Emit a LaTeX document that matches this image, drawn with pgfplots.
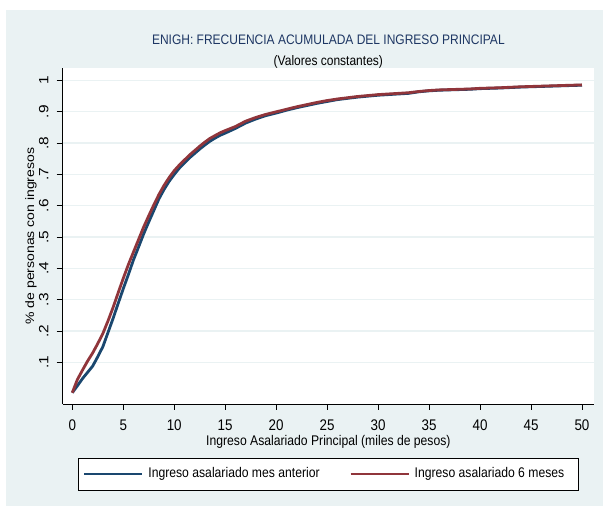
\documentclass[border=0pt]{standalone}
\usepackage{fontspec}
\setmainfont[FakeStretch=0.87]{Liberation Sans}
\newfontfamily\rotfont[FakeStretch=1.149]{Liberation Sans}
\usepackage{pgfplots}
\pgfplotsset{compat=1.18}
\definecolor{bgc}{RGB}{234,242,243}
\definecolor{snavy}{RGB}{26,71,111}
\definecolor{smaroon}{RGB}{144,53,59}
\definecolor{ttl}{RGB}{30,55,100}

\pgfplotstableread{
x y
0 0.003
0.5 0.025
1 0.048
1.5 0.068
2 0.088
2.5 0.118
3 0.150
3.5 0.195
4 0.240
4.5 0.288
5 0.335
5.5 0.380
6 0.427
6.5 0.468
7 0.510
7.5 0.548
8 0.585
8.5 0.622
9 0.652
9.5 0.678
10 0.700
10.5 0.720
11 0.737
11.5 0.753
12 0.767
12.5 0.781
13 0.794
13.5 0.806
14 0.816
14.5 0.825
15 0.832
16 0.847
17 0.864
18 0.877
19 0.888
20 0.896
21 0.905
22 0.913
23 0.920
24 0.927
25 0.933
26 0.939
27 0.943
28 0.947
29 0.950
30 0.953
31 0.955
32 0.957
33 0.959
34 0.964
35 0.967
36 0.969
37 0.970
38 0.971
39 0.972
40 0.974
42 0.976
44 0.979
46 0.981
48 0.983
50 0.985
}\mesant

\pgfplotstableread{
x y
0 0.003
0.5 0.045
1 0.075
1.5 0.104
2 0.130
2.5 0.160
3 0.192
3.5 0.232
4 0.275
4.5 0.322
5 0.368
5.5 0.412
6 0.452
6.5 0.492
7 0.532
7.5 0.568
8 0.603
8.5 0.636
9 0.665
9.5 0.690
10 0.712
10.5 0.730
11 0.746
11.5 0.762
12 0.776
12.5 0.790
13 0.803
13.5 0.815
14 0.824
14.5 0.833
15 0.840
16 0.853
17 0.870
18 0.882
19 0.892
20 0.900
21 0.908
22 0.916
23 0.923
24 0.930
25 0.936
26 0.941
27 0.945
28 0.949
29 0.952
30 0.955
31 0.957
32 0.959
33 0.961
34 0.965
35 0.968
36 0.970
37 0.971
38 0.972
39 0.973
40 0.975
42 0.977
44 0.980
46 0.982
48 0.984
50 0.986
}\seismeses

\begin{document}
\begin{tikzpicture}[x=1pt,y=1pt]
\fill[white] (0,0) rectangle (603,506);
\fill[bgc] (6,0) rectangle (603,496);
\begin{axis}[
  at={(62.7pt,102pt)}, anchor=south west,
  scale only axis, width=531.3pt, height=335.7pt,
  xmin=-0.94, xmax=51.18, ymin=-0.033, ymax=1.039,
  axis background/.style={fill=white},
  axis lines=left,
  axis line style={-, black, line width=0.8pt},
  tick align=outside,
  major tick length=6pt,
  tick style={black, line width=0.8pt},
  xtick={0,5,...,50},
  ytick={0.1,0.2,0.3,0.4,0.5,0.6,0.7,0.8,0.9,1},
  yticklabels={.1,.2,.3,.4,.5,.6,.7,.8,.9,1},
  /pgf/number format/assume math mode=true,
  xticklabel style={font=\fontsize{15.4}{16}\selectfont, anchor=center, inner sep=0pt, yshift=-15.3pt},
  yticklabel style={font=\rotfont\fontsize{13.4}{14}\selectfont, anchor=center, inner sep=0pt, xshift=-12.9pt, rotate=90},
  ymajorgrids,
  grid style={bgc, line width=1.3pt},
  title={\color{ttl}ENIGH: FRECUENCIA ACUMULADA DEL INGRESO PRINCIPAL\\\color{black}(Valores constantes)},
  title style={at={(0.5,1)}, anchor=south, inner sep=0pt, yshift=-6pt, align=center, font=\fontsize{13.8}{21}\selectfont},
  xlabel={Ingreso Asalariado Principal (miles de pesos)},
  xlabel style={at={(axis description cs:0.5,-0.112)}, anchor=center, inner sep=0pt, font=\fontsize{14}{16}\selectfont},
  ylabel={\% de personas con ingresos},
  ylabel style={at={(axis description cs:-0.0597,0.5)}, anchor=center, inner sep=0pt, font=\rotfont\fontsize{12.2}{14}\selectfont},
  legend style={at={(0.5,-0.16)}, anchor=north, draw=black, line width=0.8pt, fill=white,
    inner xsep=5.3pt, inner ysep=9.8pt,
    nodes={inner sep=0pt, text height=10pt, text depth=3pt},
    font=\fontsize{14}{16}\selectfont,
    /tikz/every odd column/.append style={column sep=5pt},
    /tikz/every even column/.append style={column sep=30pt}},
  legend columns=2,
  legend image code/.code={\draw[#1, line width=2pt] (0pt,0pt) -- (58pt,0pt);},
]
\addplot[snavy, line width=2.8pt, line join=round] table[x=x,y=y] {\mesant};
\addlegendentry{Ingreso asalariado mes anterior}
\addplot[smaroon, line width=2.8pt, line join=round] table[x=x,y=y] {\seismeses};
\addlegendentry{Ingreso asalariado 6 meses\hspace*{9pt}}
\end{axis}
\pgfresetboundingbox
\path (0,0) rectangle (603,506);
\end{tikzpicture}
\end{document}
